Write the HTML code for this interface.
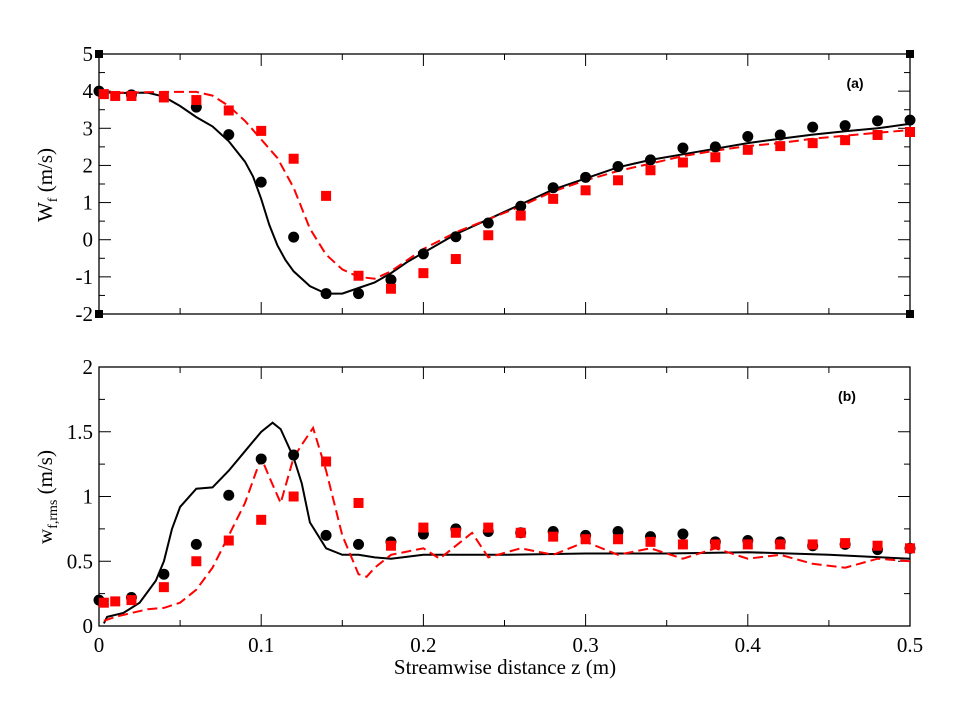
<!DOCTYPE html>
<html><head><meta charset="utf-8"><style>
body{margin:0;background:#fff}
svg text{font-family:"Liberation Serif",serif;fill:#000}
</style></head><body>
<svg id="c" width="965" height="711" xmlns="http://www.w3.org/2000/svg"></svg>
<script>
const xTicks=[0,0.1,0.2,0.3,0.4,0.5];
const xTickLabels=["0","0.1","0.2","0.3","0.4","0.5"];
const topYTicks=[-2,-1,0,1,2,3,4,5];
const botYTicks=[0,0.5,1,1.5,2];
const botYTickLabels=["0","0.5","1","1.5","2"];
const topExpX=[0,0.02,0.06,0.08,0.1,0.12,0.14,0.16,0.18,0.2,0.22,0.24,0.26,0.28,0.3,0.32,0.34,0.36,0.38,0.4,0.42,0.44,0.46,0.48,0.5];
const topCircles=[4.0,3.9,3.57,2.83,1.55,0.07,-1.45,-1.45,-1.08,-0.38,0.08,0.45,0.9,1.4,1.68,1.97,2.15,2.47,2.5,2.78,2.82,3.03,3.07,3.2,3.22];
const sqX=[0.003,0.01,0.02,0.04,0.06,0.08,0.1,0.12,0.14,0.16,0.18,0.2,0.22,0.24,0.26,0.28,0.3,0.32,0.34,0.36,0.38,0.4,0.42,0.44,0.46,0.48,0.5];
const topSquares=[3.92,3.87,3.87,3.83,3.76,3.48,2.93,2.18,1.18,-0.97,-1.32,-0.9,-0.52,0.12,0.65,1.1,1.33,1.6,1.87,2.08,2.22,2.42,2.52,2.6,2.68,2.82,2.9];
const topBlackX=[0,0.01,0.03,0.04,0.05,0.06,0.07,0.08,0.09,0.095,0.1,0.105,0.11,0.115,0.12,0.13,0.14,0.15,0.16,0.17,0.18,0.19,0.2,0.22,0.24,0.26,0.28,0.3,0.32,0.34,0.36,0.38,0.4,0.42,0.44,0.46,0.48,0.5];
const topBlackY=[3.98,3.95,3.96,3.85,3.6,3.3,3.05,2.65,2.1,1.7,1.1,0.4,-0.15,-0.55,-0.85,-1.25,-1.45,-1.45,-1.3,-1.15,-0.9,-0.6,-0.35,0.15,0.55,0.95,1.35,1.65,1.95,2.15,2.3,2.45,2.6,2.72,2.83,2.92,3.0,3.12];
const topRedX=[0,0.04,0.06,0.07,0.08,0.09,0.1,0.11,0.12,0.13,0.14,0.15,0.16,0.17,0.18,0.2,0.22,0.24,0.26,0.28,0.3,0.32,0.34,0.36,0.38,0.4,0.42,0.44,0.46,0.48,0.5];
const topRedY=[3.95,3.98,3.98,3.88,3.6,3.2,2.7,2.2,1.4,0.3,-0.4,-0.8,-1.0,-1.05,-0.85,-0.25,0.2,0.55,0.9,1.3,1.6,1.85,2.05,2.25,2.4,2.52,2.6,2.72,2.8,2.88,2.95];
const botCircles=[0.2,0.22,0.63,1.01,1.29,1.32,0.7,0.63,0.65,0.71,0.75,0.73,0.72,0.73,0.70,0.73,0.69,0.71,0.65,0.66,0.65,0.62,0.63,0.59,0.6];
const botCircleX=[0,0.02,0.06,0.08,0.1,0.12,0.14,0.16,0.18,0.2,0.22,0.24,0.26,0.28,0.3,0.32,0.34,0.36,0.38,0.4,0.42,0.44,0.46,0.48,0.5];
const botExtraCircleX=[0.04];
const botExtraCircle=[0.4];
const botSquares=[0.18,0.19,0.2,0.3,0.5,0.66,0.82,1.0,1.27,0.95,0.62,0.76,0.72,0.76,0.72,0.69,0.67,0.67,0.65,0.63,0.63,0.63,0.63,0.63,0.64,0.62,0.6];
const botBlackX=[0.003,0.005,0.015,0.025,0.035,0.04,0.045,0.05,0.06,0.07,0.08,0.09,0.1,0.107,0.112,0.12,0.125,0.13,0.14,0.15,0.16,0.17,0.18,0.2,0.25,0.3,0.35,0.4,0.45,0.5];
const botBlackY=[0.02,0.07,0.1,0.18,0.35,0.5,0.75,0.92,1.06,1.07,1.2,1.35,1.5,1.57,1.52,1.3,1.1,0.8,0.6,0.55,0.55,0.53,0.52,0.55,0.55,0.56,0.56,0.57,0.55,0.52];
const botRedX=[0.003,0.01,0.02,0.03,0.04,0.05,0.06,0.07,0.08,0.09,0.1,0.105,0.112,0.12,0.125,0.132,0.14,0.15,0.16,0.165,0.17,0.18,0.2,0.21,0.23,0.24,0.26,0.28,0.3,0.32,0.34,0.36,0.38,0.4,0.42,0.44,0.46,0.48,0.5];
const botRedY=[0.04,0.07,0.1,0.13,0.14,0.18,0.28,0.45,0.7,0.95,1.3,1.15,0.95,1.3,1.4,1.53,1.2,0.7,0.4,0.38,0.45,0.55,0.6,0.52,0.72,0.53,0.6,0.55,0.65,0.55,0.6,0.52,0.6,0.52,0.55,0.48,0.45,0.52,0.5];

const svg=document.getElementById('c');const NS='http://www.w3.org/2000/svg';
function mk(t,a,p){const e=document.createElementNS(NS,t);for(const k in a)e.setAttribute(k,a[k]);(p||svg).appendChild(e);return e;}
const X0=99,X1=910;const sx=v=>X0+(v-0)/(0.5)*(X1-X0);
const tyT=v=>54+(5-v)/7*(314-54);
const tyB=v=>367+(2-v)/2*(626-367);
function panel(name,sy,yticks,ylabels,minorStep,ymin,ymax){
  const g=mk('g',{});
  
  
  const r=mk('rect',{x:X0,y:sy(ymax),width:X1-X0,height:sy(ymin)-sy(ymax),fill:'none',stroke:'#000','stroke-width':1.3},g);
  
  for(let v=0;v<=0.5001;v+=0.05){const maj=Math.abs(v*10-Math.round(v*10))<1e-6;const L=maj?12:6;
    mk('line',{x1:sx(v),x2:sx(v),y1:sy(ymin),y2:sy(ymin)-L,stroke:'#000'},g);
    mk('line',{x1:sx(v),x2:sx(v),y1:sy(ymax),y2:sy(ymax)+L,stroke:'#000'},g);}
  for(let v=ymin;v<=ymax+1e-6;v+=minorStep){const maj=yticks.some(t=>Math.abs(t-v)<1e-6);const L=maj?12:6;
    mk('line',{x1:X0,x2:X0+L,y1:sy(v),y2:sy(v),stroke:'#000'},g);
    mk('line',{x1:X1,x2:X1-L,y1:sy(v),y2:sy(v),stroke:'#000'},g);}
  yticks.forEach((v,i)=>{const t=mk('text',{x:X0-6,y:sy(v)+7,'text-anchor':'end','font-size':21},g);t.textContent=ylabels[i];
    });
  return g;
}
panel('panel-a',tyT,topYTicks,topYTicks.map(String),0.5,-2,5);
panel('panel-b',tyB,botYTicks,botYTickLabels,0.25,0,2);
xTicks.forEach((v,i)=>{const t=mk('text',{x:sx(v),y:652,'text-anchor':'middle','font-size':21});t.textContent=xTickLabels[i];
  });
[[0,5],[0.5,5],[0,-2],[0.5,-2]].forEach(p=>{const e=mk('rect',{x:sx(p[0])-4,y:tyT(p[1])-4,width:8,height:8,fill:'#000'});
  });
function line(xs,ys,sy,col,dash,name){const d=xs.map((x,i)=>(i?'L':'M')+sx(x).toFixed(1)+','+sy(ys[i]).toFixed(1)).join('');
  const e=mk('path',{d:d,fill:'none',stroke:col,'stroke-width':2,'stroke-dasharray':dash||'none'});
  }
function circles(xs,ys,sy,name){xs.forEach((x,i)=>{const e=mk('circle',{cx:sx(x),cy:sy(ys[i]),r:5.5,fill:'#000'});
  });}
function squares(xs,ys,sy,name){xs.forEach((x,i)=>{const e=mk('rect',{x:sx(x)-5,y:sy(ys[i])-5,width:10,height:10,fill:'#f00'});
  });}
line(topBlackX,topBlackY,tyT,'#000',null,'sim-line-a');
line(topRedX,topRedY,tyT,'#f00','10,5','red-dashed-line-a');
circles(topExpX,topCircles,tyT,'black-circle-a');
squares(sqX,topSquares,tyT,'red-square-a');
line(botBlackX,botBlackY,tyB,'#000',null,'sim-line-b');
line(botRedX,botRedY,tyB,'#f00','10,5','red-dashed-line-b');
circles(botCircleX,botCircles,tyB,'black-circle-b');
circles(botExtraCircleX,botExtraCircle,tyB,'black-circle-b');
squares(sqX,botSquares,tyB,'red-square-b');
</script>
<svg width="965" height="711" style="position:absolute;left:0;top:0" xmlns="http://www.w3.org/2000/svg">
<text x="505" y="674" text-anchor="middle" font-size="21">Streamwise distance z (m)</text>
<text transform="translate(52,185) rotate(-90)" text-anchor="middle" font-size="21">W<tspan font-size="14" dy="5">f</tspan><tspan dy="-5"> (m/s)</tspan></text>
<text transform="translate(52,497) rotate(-90)" text-anchor="middle" font-size="21">w<tspan font-size="14" dy="5">f,rms</tspan><tspan dy="-5"> (m/s)</tspan></text>
<text x="855" y="88" text-anchor="middle" font-size="14" font-weight="bold" style="font-family:'Liberation Sans',sans-serif">(a)</text>
<text x="847" y="401" text-anchor="middle" font-size="14" font-weight="bold" style="font-family:'Liberation Sans',sans-serif">(b)</text>
</svg>
</body></html>
